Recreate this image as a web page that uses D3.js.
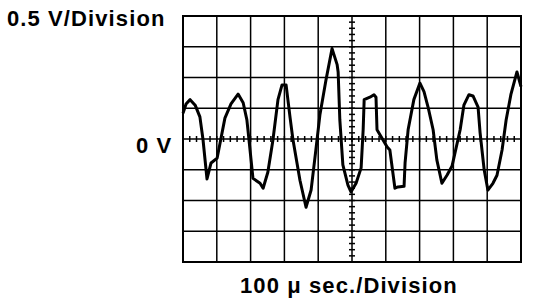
<!DOCTYPE html>
<html>
<head>
<meta charset="utf-8">
<script src="https://cdn.jsdelivr.net/npm/d3@7"></script>
<style>
  html, body { margin: 0; padding: 0; background: #fff; }
  svg { display: block; }
  .label { font-family: "Liberation Sans", Arial, sans-serif; font-weight: bold; font-size: 22px; letter-spacing: 1.1px; fill: #000; }
</style>
</head>
<body>
<script>
// trace samples: time in microseconds, level in volts
const timeUs = [0, 9, 21, 36, 50, 59, 71, 83, 101, 112, 124, 142, 163, 178, 189, 195, 207, 228, 237, 251,
  266, 281, 293, 305, 317, 325, 346, 364, 379, 393, 405, 423, 441, 456, 459, 464, 473, 488, 497, 512,
  527, 533, 536, 553, 565, 571, 574, 604, 612, 627, 636, 654, 657, 666, 683, 701, 713, 725, 740, 751,
  766, 781, 796, 820, 831, 846, 858, 873, 879, 891, 902, 917, 929, 944, 956, 970, 988, 1000];
const volts = [0.42, 0.57, 0.64, 0.55, 0.36, 0, -0.65, -0.39, -0.31, 0, 0.34, 0.57, 0.73, 0.59, 0.31, 0, -0.64, -0.72, -0.80, -0.54,
  -0.02, 0.64, 0.88, 0.88, 0.34, 0, -0.67, -1.11, -0.83, -0.18, 0.39, 0.96, 1.47, 1.21, 1.09, 0.31, -0.42, -0.75, -0.86, -0.72,
  -0.47, 0.15, 0.64, 0.68, 0.72, 0.68, 0.15, -0.13, -0.18, -0.80, -0.78, -0.77, -0.39, 0.15, 0.64, 0.91, 0.77, 0.52, 0.15, -0.34,
  -0.72, -0.59, -0.44, 0.15, 0.55, 0.72, 0.70, 0.52, 0.10, -0.50, -0.83, -0.72, -0.59, -0.18, 0.31, 0.72, 1.09, 0.85];

const timeDomain = [0, 1000];   // 10 divisions of 100 us
const voltDomain = [-2, 2];     // 8 divisions of 0.5 V
const voltLabel = "0.5 V/Division";
const timeLabel = "100 \u03bc sec./Division";
const zeroLabel = "0 V";

const W = 544, H = 306;
const plot = {left: 183, right: 521, top: 16, bottom: 262};

const x = d3.scaleLinear().domain(timeDomain).range([plot.left, plot.right]);
const y = d3.scaleLinear().domain(voltDomain).range([plot.bottom, plot.top]);

const svg = d3.select("body").append("svg")
  .attr("width", W)
  .attr("height", H);

// graticule
const grid = svg.append("g").attr("stroke", "#000").attr("stroke-width", 1.5);
grid.selectAll(".vline").data(x.ticks(10)).enter().append("line")
  .attr("class", "vline")
  .attr("x1", d => x(d)).attr("x2", d => x(d))
  .attr("y1", plot.top).attr("y2", plot.bottom);
grid.selectAll(".hline").data(y.ticks(8)).enter().append("line")
  .attr("class", "hline")
  .attr("x1", plot.left).attr("x2", plot.right)
  .attr("y1", d => y(d)).attr("y2", d => y(d));

// minor ticks on the centre lines (1/5 division)
const minorT = d3.range(timeDomain[0], timeDomain[1] + 1, 20);
const minorV = d3.range(voltDomain[0], voltDomain[1] + 0.001, 0.1);
grid.selectAll(".tx").data(minorT).enter().append("line")
  .attr("class", "tx")
  .attr("x1", d => x(d)).attr("x2", d => x(d))
  .attr("y1", y(0) - 3).attr("y2", y(0) + 3);
grid.selectAll(".ty").data(minorV).enter().append("line")
  .attr("class", "ty")
  .attr("x1", x(500) - 3).attr("x2", x(500) + 3)
  .attr("y1", d => y(d)).attr("y2", d => y(d));

svg.append("rect")
  .attr("x", plot.left).attr("y", plot.top)
  .attr("width", plot.right - plot.left).attr("height", plot.bottom - plot.top)
  .attr("fill", "none").attr("stroke", "#000").attr("stroke-width", 2);

// trace
const pts = timeUs.map((t, i) => [t, volts[i]]);
const line = d3.line().x(d => x(d[0])).y(d => y(d[1]));
svg.append("path")
  .datum(pts)
  .attr("d", line)
  .attr("fill", "none")
  .attr("stroke", "#000")
  .attr("stroke-width", 3)
  .attr("stroke-linejoin", "round");

// labels
svg.append("text").attr("class", "label").attr("x", 7).attr("y", 26).text(voltLabel);
svg.append("text").attr("class", "label").attr("x", 136).attr("y", 153).text(zeroLabel);
svg.append("text").attr("class", "label").attr("x", 240).attr("y", 293).text(timeLabel);
</script>
</body>
</html>
